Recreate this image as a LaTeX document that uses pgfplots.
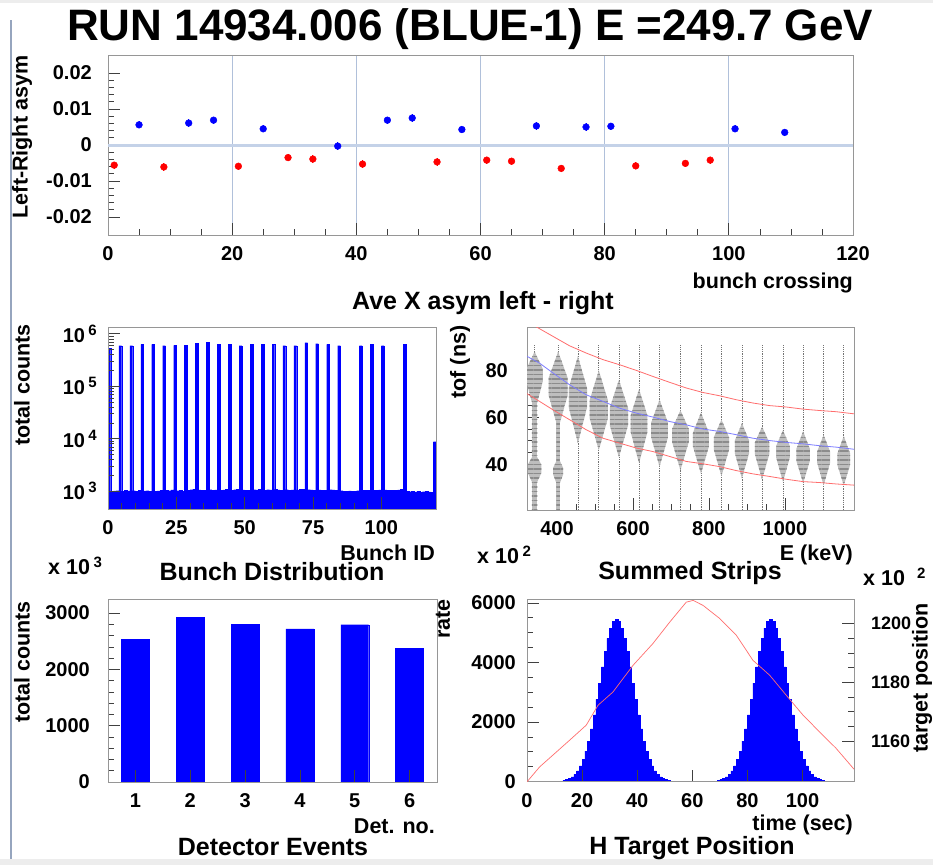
\documentclass[border=0pt]{standalone}
\usepackage{pgfplots}
\pgfplotsset{compat=1.18}
\usetikzlibrary{patterns.meta}
\usepackage{fontspec}
\setmainfont{Liberation Sans}
\definecolor{gridblue}{RGB}{176,192,218}
\definecolor{zeroblue}{RGB}{196,210,232}
\definecolor{framegray}{RGB}{150,150,150}
\definecolor{ltred}{RGB}{255,110,110}
\definecolor{ltblue}{RGB}{125,125,255}
\definecolor{colgray}{RGB}{190,190,190}
\definecolor{edgeblue}{RGB}{150,165,190}
\newcommand\ticksize{\fontsize{20}{20}\selectfont\bfseries}
\newcommand\axtitle{\fontsize{21.5}{22}\selectfont\bfseries}
\newcommand\pantitle{\fontsize{25}{26}\selectfont\bfseries}
\newcommand\maintitle{\fontsize{44}{44}\selectfont\bfseries}
\newcommand\rsup[1]{\raisebox{7pt}{\fontsize{15}{15}\selectfont\bfseries #1}}
\pgfplotsset{
 rootax/.style={
  scale only axis,
  anchor=south west,
  axis line style={draw=framegray, line width=0.8pt},
  tick style={draw=black!75, line width=0.7pt},
  major tick length=12pt, minor tick length=6pt,
  tick align=inside,
  xtick pos=left, ytick pos=left,
  scaled ticks=false,
  /pgf/number format/assume math mode=true,
  tick label style={font=\ticksize},
  xticklabel style={anchor=center, inner sep=0pt, yshift=-19pt},
 },
 column/.style={fill=colgray, draw=none,
  postaction={pattern={Lines[angle=0,distance=4.5pt,line width=1.1pt]}, pattern color=black!45}},
}
\begin{document}
\begin{tikzpicture}[x=1pt,y=1pt]
\useasboundingbox (0,0) rectangle (933,-865);
\fill[white] (0,0) rectangle (933,-865);
\fill[black!7] (0,-859) rectangle (933,-865);
\fill[black!7] (0,0) rectangle (933,-3);
\draw[edgeblue, line width=1.5pt] (11,-20) -- (11,-859);

% ---------------- Title
\node[anchor=base, inner sep=0pt] at (470,-40) {\maintitle RUN 14934.006 (BLUE-1) E =249.7 GeV};

% ---------------- Panel 1: asymmetry
\begin{axis}[rootax, at={(108pt,-235pt)}, width=745pt, height=180pt,
  xmin=0, xmax=120, ymin=-0.025, ymax=0.025,
  xtick={0,20,40,60,80,100,120}, xticklabels={0,20,40,60,80,100,120}, minor x tick num=3,
  ytick={-0.02,-0.01,0,0.01,0.02}, yticklabels={-0.02,-0.01,0,0.01,0.02}, minor y tick num=4,
  yticklabel style={anchor=east, inner sep=0pt, xshift=-16pt},
  xmajorgrids, major grid style={gridblue, line width=1pt}]
\addplot[zeroblue, line width=3pt] coordinates {(0,0) (120,0)};
\addplot[only marks, mark=*, mark size=3.4pt, color=red,
  error bars/.cd, y dir=both, y fixed=0.001, error mark=none, error bar style={line width=0.9pt}]
  coordinates {(1,-0.0056) (9,-0.0061) (21,-0.0059) (29,-0.0035) (33,-0.0039) (41,-0.0053) (53,-0.0047)
   (61,-0.0042) (65,-0.0045) (73,-0.0065) (85,-0.0058) (93,-0.0051) (97,-0.0042)};
\addplot[only marks, mark=*, mark size=3.4pt, color=blue,
  error bars/.cd, y dir=both, y fixed=0.001, error mark=none, error bar style={line width=0.9pt}]
  coordinates {(5,0.0056) (13,0.0061) (17,0.0069) (25,0.0045) (37,-0.0003) (45,0.0069) (49,0.0075)
   (57,0.0043) (69,0.0053) (77,0.0050) (81,0.0052) (101,0.0045) (109,0.0035)};
\end{axis}
\node[rotate=90, inner sep=0pt] at (22,-137) {\axtitle Left-Right asym};
\node[anchor=east, inner sep=0pt] at (853,-283) {\axtitle bunch crossing};
\node[inner sep=0pt] at (483,-303) {\pantitle Ave X asym left - right};

% ---------------- Panel 2: bunch distribution
\begin{axis}[rootax, at={(108pt,-509pt)}, width=328pt, height=182pt, axis on top,
  xmin=0, xmax=120, ymode=log, ymin=457, ymax=1.35e6,
  xtick={0,25,50,75,100}, xticklabels={0,25,50,75,100}, minor x tick num=4,
  ytick={1e3,1e4,1e5,1e6},
  yticklabels={10\,\rsup{3},10\,\rsup{4},10\,\rsup{5},10\,\rsup{6}},
  yticklabel style={anchor=east, inner sep=0pt, xshift=-11pt}]
\addplot[ybar interval, fill=blue, draw=blue, line width=0.2pt] coordinates {
(0,537000) (1,1000) (2,1010) (3,1020)
(4,594000) (5,1000) (6,1030) (7,1010)
(8,594000) (9,1020) (10,1000) (11,1040)
(12,629000) (13,1010) (14,1020) (15,1000)
(16,629000) (17,1000) (18,1010) (19,1030)
(20,594000) (21,1040) (22,1020) (23,1060)
(24,603000) (25,1020) (26,1050) (27,1000)
(28,603000) (29,1030) (30,1070) (31,1080)
(32,668000) (33,1060) (34,1050) (35,1040)
(36,698000) (37,1070) (38,1050) (39,1060)
(40,629000) (41,1040) (42,1060) (43,1080)
(44,639000) (45,1050) (46,1070) (47,1090)
(48,594000) (49,1060) (50,1040) (51,1050)
(52,639000) (53,1070) (54,1060) (55,1080)
(56,629000) (57,1050) (58,1070) (59,1060)
(60,629000) (61,1080) (62,1060) (63,1050)
(64,594000) (65,1070) (66,1050) (67,1060)
(68,594000) (69,1060) (70,1080) (71,1090)
(72,678000) (73,1070) (74,1060) (75,1050)
(76,649000) (77,1060) (78,1040) (79,1050)
(80,629000) (81,1070) (82,1060) (83,1050)
(84,594000) (85,1020) (86,1000) (87,990) (88,1010) (89,1000) (90,990) (91,1020)
(92,594000) (93,1040) (94,1030) (95,1050)
(96,629000) (97,1050) (98,1040) (99,1060)
(100,594000) (101,1060) (102,1040) (103,1030) (104,1050) (105,1040) (106,1060) (107,1080)
(108,639000) (109,990) (110,980) (111,1000) (112,970) (113,990) (114,960) (115,980) (116,1000) (117,970) (118,960)
(119,8770) (120,8770)};
\end{axis}
\node[rotate=90, inner sep=0pt] at (22,-385) {\axtitle total counts};
\node[anchor=east, inner sep=0pt] at (435,-553) {\axtitle Bunch ID};
\node[anchor=west, inner sep=0pt] at (48,-566) {\axtitle x 10\,\rsup{3}};
\node[inner sep=0pt] at (272,-572) {\pantitle Bunch Distribution};

% ---------------- Panel 3: summed strips
\begin{axis}[rootax, at={(527pt,-510pt)}, width=327pt, height=183pt,
  xmin=321, xmax=1182, ymin=20.5, ymax=98.5,
  xtick={400,600,800,1000}, xticklabels={400,600,800,1000}, minor x tick num=3,
  ytick={40,60,80}, yticklabels={40,60,80}, minor y tick num=3,
  yticklabel style={anchor=east, inner sep=0pt, xshift=-19pt}]
\addplot[ycomb, densely dotted, black!55, line width=0.8pt] coordinates {
 (341,91) (403,91) (455,91) (510,91) (563,91) (616,91) (670,91) (725,91)
 (779,91) (833,91) (887,91) (940,91) (995,91) (1048,91) (1102,91) (1155,91)};
\addplot[column] coordinates {(341,88) (363,80.5) (363,75.6) (341,62) (319,75.6) (319,80.5)};
\addplot[column] coordinates {(334,20.5) (348,20.5) (348,66) (334,66)};
\addplot[column] coordinates {(341,45) (359,39.8) (359,36.4) (341,30) (323,36.4) (323,39.8)};
\addplot[column] coordinates {(403,88) (428,76.8) (428,69.4) (403,55) (378,69.4) (378,76.8)};
\addplot[column] coordinates {(398,20.5) (408,20.5) (408,58) (398,58)};
\addplot[column] coordinates {(403,43) (416,38.5) (416,35.6) (403,30) (390,35.6) (390,38.5)};
\addplot[column] coordinates {(455,86) (479,72.5) (479,64.2) (455,49) (431,64.2) (431,72.5)};
\addplot[column] coordinates {(510,80) (534,67.3) (534,59.6) (510,46) (486,59.6) (486,67.3)};
\addplot[column] coordinates {(563,76) (587,64) (587,56.6) (563,43) (539,56.6) (539,64)};
\addplot[column] coordinates {(616,72) (638,60.8) (638,53.7) (616,40.5) (594,53.7) (594,60.8)};
\addplot[column] coordinates {(670,67.5) (692,57.8) (692,51.4) (670,39) (648,51.4) (648,57.8)};
\addplot[column] coordinates {(725,63) (747,55.1) (747,49.5) (725,37.5) (703,49.5) (703,55.1)};
\addplot[column] coordinates {(779,62) (800,53.4) (800,47.6) (779,36) (758,47.6) (758,53.4)};
\addplot[column] coordinates {(833,59) (853,51.5) (853,46.2) (833,35) (813,46.2) (813,51.5)};
\addplot[column] coordinates {(887,57.5) (906,50) (906,44.8) (887,34) (868,44.8) (868,50)};
\addplot[column] coordinates {(940,56) (959,49.3) (959,44.3) (940,33.5) (921,44.3) (921,49.3)};
\addplot[column] coordinates {(995,54.5) (1013,47.8) (1013,42.9) (995,32.5) (977,42.9) (977,47.8)};
\addplot[column] coordinates {(1048,54) (1066,46.5) (1066,41.6) (1048,32) (1030,41.6) (1030,46.5)};
\addplot[column] coordinates {(1102,52.5) (1119,45.4) (1119,40.6) (1102,31) (1085,40.6) (1085,45.4)};
\addplot[column] coordinates {(1155,52) (1172,44.5) (1172,39.8) (1155,31) (1138,39.8) (1138,44.5)};
\addplot[ltred, line width=0.8pt] coordinates {(330,100) (389.5,94.5) (433,90.5) (477,87.4) (521,84.6) (565,82.4)
 (609,80.0) (653,77.4) (697,74.9) (740.5,72.5) (784,70.6) (828,69.2) (872,67.5) (916,66.1) (960,65.0)
 (1004,64.4) (1048,63.5) (1092,62.9) (1135,62.4) (1182,61.5)};
\addplot[ltred, line width=0.8pt] coordinates {(321,70.1) (354,66.8) (389.5,63.2) (433,59.0) (477,54.7) (521,51.1)
 (565,49.0) (609,46.9) (653,45.4) (697,43.3) (740.5,41.2) (784,40.2) (828,39.0) (872,37.3) (916,35.9)
 (960,34.8) (1004,33.6) (1048,32.6) (1092,32.2) (1135,31.6) (1182,31.1)};
\addplot[ltblue, line width=0.8pt] coordinates {(321,86.0) (354,83.1) (389.5,78.9) (433,73.9) (477,69.6) (521,66.8)
 (565,63.9) (609,61.8) (653,60.1) (697,58.2) (740.5,56.8) (784,55.0) (828,54.0) (872,52.6) (916,51.1)
 (960,50.1) (1004,49.3) (1048,48.7) (1092,47.9) (1135,47.3) (1182,46.4)};
\end{axis}
\node[rotate=90, inner sep=0pt] at (460,-362) {\axtitle tof (ns)};
\node[anchor=east, inner sep=0pt] at (853,-555) {\axtitle E (keV)};
\node[anchor=west, inner sep=0pt] at (477,-555) {\axtitle x 10\,\rsup{2}};
\node[inner sep=0pt] at (690,-573) {\pantitle Summed Strips};

% ---------------- Panel 4: detector events
\begin{axis}[rootax, at={(108pt,-782pt)}, width=329pt, height=183pt, axis on top,
  xmin=0.5, xmax=6.5, ymin=0, ymax=3250,
  xtick={1,2,3,4,5,6}, xticklabels={1,2,3,4,5,6},
  ytick={0,1000,2000,3000}, yticklabels={0,1000,2000,3000}, minor y tick num=4,
  yticklabel style={anchor=east, inner sep=0pt, xshift=-18pt}]
\addplot[ybar, bar width=0.51, fill=blue, draw=blue] coordinates {(1,2530) (2,2923) (3,2804) (4,2721) (5,2793) (6,2370)};
\end{axis}
\node[rotate=90, inner sep=0pt] at (22,-662) {\axtitle total counts};
\node[anchor=east, inner sep=0pt] at (435,-826) {\axtitle Det. no.};
\node[inner sep=0pt] at (273,-847) {\pantitle Detector Events};

% ---------------- Panel 5: H target position
\begin{axis}[rootax, at={(527pt,-781.5pt)}, width=327pt, height=182pt, axis on top,
  xmin=0, xmax=118.7, ymin=0, ymax=6115,
  xtick={0,20,40,60,80,100}, xticklabels={0,20,40,60,80,100},
  ytick={0,2000,4000,6000}, yticklabels={0,2000,4000,6000}, minor y tick num=3,
  yticklabel style={anchor=east, inner sep=0pt, xshift=-11pt}]
\addplot[const plot, fill=blue, draw=blue, line width=0.6pt] coordinates {
 (0,0) (13,35) (14,60) (15,98) (16,158) (17,240) (18,360) (19,523) (20,736) (21,1019) (22,1357)
 (23,1771) (24,2240) (25,2758) (26,3308) (27,3853) (28,4365) (29,4807) (30,5156) (31,5374) (32,5450)
 (33,5374) (34,5156) (35,4807) (36,4365) (37,3853) (38,3308) (39,2758) (40,2240) (41,1771) (42,1357)
 (43,1019) (44,736) (45,523) (46,360) (47,240) (48,158) (49,98) (50,60) (51,35) (52,0)
 (69,35) (70,60) (71,98) (72,158) (73,240) (74,360) (75,523) (76,736) (77,1019) (78,1357)
 (79,1771) (80,2240) (81,2758) (82,3308) (83,3853) (84,4365) (85,4807) (86,5156) (87,5374) (88,5450)
 (89,5374) (90,5156) (91,4807) (92,4365) (93,3853) (94,3308) (95,2758) (96,2240) (97,1771) (98,1357)
 (99,1019) (100,736) (101,523) (102,360) (103,240) (104,158) (105,98) (106,60) (107,35) (108,0) (118.7,0)}
 \closedcycle;
\end{axis}
\begin{axis}[rootax, at={(527pt,-781.5pt)}, width=327pt, height=182pt,
  xmin=0, xmax=118.7, ymin=1146.2, ymax=1208.2,
  hide x axis, axis y line*=right, ytick pos=right,
  ytick={1160,1180,1200}, yticklabels={1160,1180,1200}, minor y tick num=3,
  yticklabel style={anchor=west, inner sep=0pt, xshift=17pt, font=\fontsize{18}{18}\selectfont\bfseries}]
\addplot[ltred, line width=0.7pt] coordinates {(0,1146.1) (4.6,1151.2) (9.4,1155.2) (15.5,1160.3) (21.5,1165.4)
 (25.8,1172.2) (31.2,1176.7) (38.5,1185.8) (45.7,1193.2) (51.8,1200.5) (57.8,1207.3) (60.3,1207.9)
 (63.9,1206.2) (70,1201.7) (76,1196) (82,1187.5) (88.1,1182.4) (94.1,1175.6) (100.2,1168.8)
 (106.2,1163.1) (112.2,1157.5) (118.7,1150.4)};
\end{axis}
\node[rotate=90, inner sep=0pt] at (443,-619) {\axtitle rate};
\node[rotate=90, inner sep=0pt] at (922,-678) {\axtitle target position};
\node[anchor=west, inner sep=0pt] at (863,-577) {\axtitle x 10\hspace{12pt}\rsup{2}};
\node[anchor=east, inner sep=0pt] at (853,-825) {\axtitle time (sec)};
\node[inner sep=0pt] at (692,-848) {\pantitle H Target Position};
\end{tikzpicture}
\end{document}
